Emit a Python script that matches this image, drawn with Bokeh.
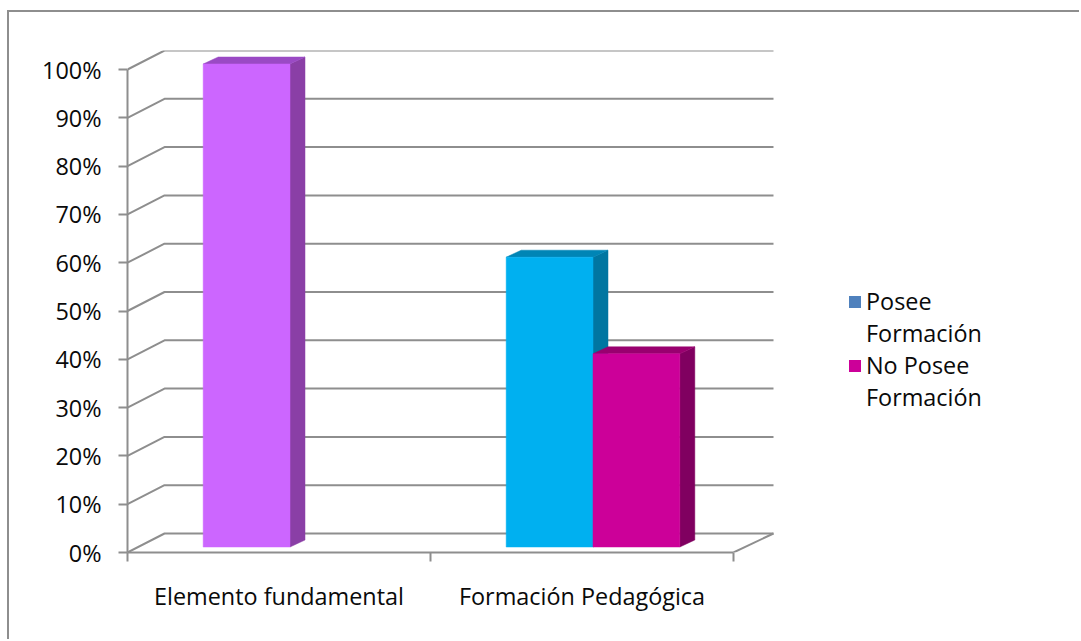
from bokeh.plotting import figure
from bokeh.embed import file_html
from bokeh.resources import INLINE
from bokeh.models import Range1d, FixedTicker, LinearAxis, Legend, LegendItem

categories = ["Elemento fundamental", "Formación Pedagógica"]
series_names = ["Posee\nFormación", "No Posee\nFormación"]
posee = [100, 60]
no_posee = [0, 40]
y_ticks = [0, 10, 20, 30, 40, 50, 60, 70, 80, 90, 100]

front_colors = [["#CC66FF", "#00B0F0"], ["#CC0099", "#CC0099"]]
side_colors = [["#8A3FA6", "#0076A1"], ["#800060", "#800060"]]
top_colors = [["#9A4AC4", "#0085B5"], ["#99006F", "#99006F"]]
legend_colors = ["#4F81BD", "#CC0099"]
GRID = "#8E8E8E"
FONT = "Open Sans"
TEXT = "#0A0A0A"
FONT_SIZE = "23.4px"

# pixels per data unit of the chart's own scales
WIDTH, HEIGHT = 1072, 629
LEFT, RIGHT, TOP, BOTTOM = 118, 0, 38, 89
PX_X = 303.0
PX_Y = 4.83
wall_dx, wall_dy = 37 / PX_X, 19 / PX_Y
wall_end_dx = 40 / PX_X
bar_dx, bar_dy = 15 / PX_X, 7 / PX_Y
base_dx, base_dy = 11 / PX_X, 5.5 / PX_Y
bar_w = 0.2865
gap = (1 - 2 * bar_w) / 2

p = figure(width=WIDTH, height=HEIGHT, output_backend="svg", toolbar_location=None,
           x_range=Range1d(0, (WIDTH - LEFT - RIGHT) / PX_X),
           y_range=Range1d(0, (HEIGHT - TOP - BOTTOM) / PX_Y),
           min_border_left=LEFT, min_border_right=RIGHT, min_border_top=TOP,
           min_border_bottom=BOTTOM, x_axis_type=None, y_axis_type=None,
           background_fill_color="white", border_fill_color="white",
           outline_line_color=None, margin=(10, 0, 0, 7),
           styles={"border-top": f"2px solid {GRID}", "border-left": f"2px solid {GRID}"})
p.grid.visible = False

# back wall
for v in y_ticks:
    p.line([0, wall_dx, 2 + wall_end_dx], [v, v + wall_dy, v + wall_dy],
           line_color=GRID, line_width=2)
p.line([2, 2 + wall_end_dx], [0, wall_dy], line_color=GRID, line_width=2)

# axes
ya = LinearAxis(ticker=FixedTicker(ticks=y_ticks), bounds=(0, 100))
ya.major_label_overrides = {v: f"{v}%" for v in y_ticks}
xa = LinearAxis(ticker=FixedTicker(ticks=[0.5, 1.5], minor_ticks=[0, 1, 2]), bounds=(0, 2))
xa.major_label_overrides = {0.5: categories[0], 1.5: categories[1]}
for ax in (ya, xa):
    ax.axis_line_color = GRID
    ax.axis_line_width = 2
    ax.major_tick_line_color = GRID
    ax.major_tick_line_width = 2
    ax.minor_tick_line_color = GRID
    ax.minor_tick_line_width = 2
    ax.major_tick_in = 0
    ax.minor_tick_in = 0
    ax.major_label_text_font = FONT
    ax.major_label_text_font_size = FONT_SIZE
    ax.major_label_text_color = TEXT
ya.major_tick_out = 9
ya.minor_tick_out = 0
ya.major_label_standoff = 17
xa.major_tick_out = 0
xa.minor_tick_out = 9
xa.major_label_standoff = 18
p.add_layout(ya, "left")
p.add_layout(xa, "below")

# 3-D columns
for s, values in enumerate([posee, no_posee]):
    for c, v in enumerate(values):
        if v == 0:
            continue
        x0 = c + gap + base_dx + s * bar_w
        x1 = x0 + bar_w
        y0 = base_dy
        y1 = v + base_dy
        p.patch([x1, x1 + bar_dx, x1 + bar_dx, x1],
                [y0, y0 + bar_dy, y1 + bar_dy, y1],
                fill_color=side_colors[s][c], line_color=side_colors[s][c], line_width=0.5)
        p.patch([x0, x0 + bar_dx, x1 + bar_dx, x1],
                [y1, y1 + bar_dy, y1 + bar_dy, y1],
                fill_color=top_colors[s][c], line_color=top_colors[s][c], line_width=0.5)
        p.quad(left=[x0], right=[x1], bottom=[y0], top=[y1],
               fill_color=front_colors[s][c], line_color=front_colors[s][c], line_width=0.5)

# legend: one row per text line, the swatch sits on the first line of its entry
items = []
for name, col in zip(series_names, legend_colors):
    for i, line in enumerate(name.split("\n")):
        r = p.quad(left=[0], right=[0], bottom=[0], top=[0], fill_color=col,
                   fill_alpha=1 if i == 0 else 0, line_color=None)
        items.append(LegendItem(label=line, renderers=[r]))
legend = Legend(items=items, location=(720, 139), orientation="vertical",
                border_line_color=None, background_fill_alpha=0,
                label_text_font=FONT, label_text_font_size=FONT_SIZE,
                label_text_color=TEXT, label_height=32,
                glyph_width=15, glyph_height=15, label_standoff=4,
                spacing=0, padding=0, margin=0)
p.add_layout(legend)

open("out.html", "w").write(file_html(p, INLINE))
